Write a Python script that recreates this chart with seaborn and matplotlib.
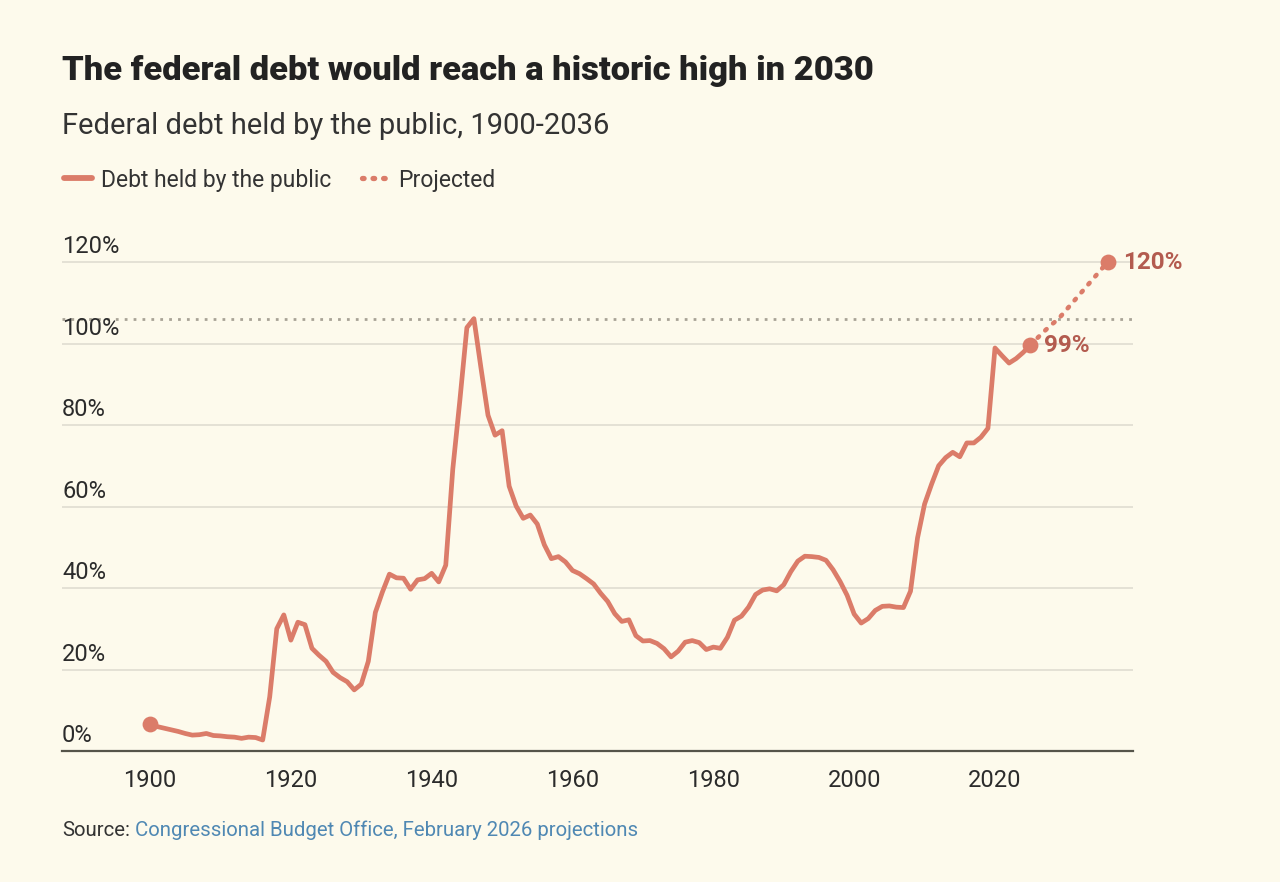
import numpy as np
import pandas as pd
import matplotlib
matplotlib.use("Agg")
import matplotlib.pyplot as plt
import matplotlib.transforms as mtransforms
from matplotlib.lines import Line2D
import seaborn as sns

# Data: federal debt held by the public, % of GDP
hist_years = list(range(1900, 2026))
hist_debt = [
    6.6, 6.0, 5.6, 5.2, 4.8, 4.3, 3.9, 4.0, 4.3, 3.8,      # 1900s
    3.7, 3.5, 3.4, 3.1, 3.4, 3.3, 2.7, 13.3, 30.0, 33.4,    # 1910s
    27.2, 31.6, 31.0, 25.2, 23.5, 22.0, 19.3, 18.0, 17.0, 15.0,  # 1920s
    16.4, 22.0, 34.0, 39.0, 43.4, 42.5, 42.4, 39.7, 42.0, 42.3,  # 1930s
    43.6, 41.5, 45.6, 69.2, 86.0, 103.9, 106.1, 94.0, 82.4, 77.5,  # 1940s
    78.6, 65.0, 60.1, 57.1, 57.9, 55.7, 50.6, 47.2, 47.7, 46.4,  # 1950s
    44.3, 43.5, 42.3, 41.0, 38.7, 36.7, 33.7, 31.8, 32.2, 28.3,  # 1960s
    27.0, 27.1, 26.4, 25.1, 23.1, 24.5, 26.7, 27.1, 26.6, 24.9,  # 1970s
    25.5, 25.2, 27.9, 32.1, 33.1, 35.3, 38.4, 39.5, 39.8, 39.3,  # 1980s
    40.8, 44.0, 46.6, 47.8, 47.7, 47.5, 46.8, 44.5, 41.6, 38.2,  # 1990s
    33.6, 31.4, 32.5, 34.5, 35.5, 35.6, 35.3, 35.2, 39.2, 52.3,  # 2000s
    60.6, 65.5, 70.0, 72.0, 73.3, 72.2, 75.6, 75.6, 77.0, 79.2,  # 2010s
    98.9, 97.0, 95.2, 96.3, 97.8, 99.6,                          # 2020-2025
]
proj_years = list(range(2025, 2037))
proj_debt = [99.6, 101.3, 103.0, 104.6, 106.0, 108.0, 110.0, 112.0, 114.0, 116.0, 118.0, 120.0]

record_high = 106.1
y_ticks = [0, 20, 40, 60, 80, 100, 120]
x_ticks = [1900, 1920, 1940, 1960, 1980, 2000, 2020]

hist = pd.DataFrame({"year": hist_years, "debt": hist_debt})
proj = pd.DataFrame({"year": proj_years, "debt": proj_debt})

BG = "#FDFAEC"
LINE = "#DB7C69"
LABEL = "#B35B4F"
GRID = "#E2DFD3"
TXT = "#2B2B2B"

sns.set_style("white")
plt.rcParams["font.family"] = ["Roboto", "DejaVu Sans"]

fig = plt.figure(figsize=(12.8, 8.82), dpi=100, facecolor=BG)
ax = fig.add_axes([62 / 1280, 131 / 882, (1133 - 62) / 1280, 124 * 4.075 / 882])
ax.set_facecolor(BG)

# gridlines
for v in y_ticks[1:]:
    ax.axhline(v, color=GRID, lw=1.3, zorder=0)
ax.axhline(record_high, color="#A8A396", lw=2, ls=(0, (1, 2.2)), zorder=1)

sns.lineplot(data=hist, x="year", y="debt", ax=ax, color=LINE, lw=3.4, zorder=3)
sns.lineplot(data=proj, x="year", y="debt", ax=ax, color=LINE, lw=3.3,
             ls=(0, (0.4, 1.9)), dash_capstyle="round", zorder=3)

# end-point dots
ax.scatter([hist_years[0], hist_years[-1], proj_years[-1]],
           [hist_debt[0], hist_debt[-1], proj_debt[-1]],
           s=130, color=LINE, zorder=4, linewidths=0)
ax.annotate(f"{int(hist_debt[-1])}%", (hist_years[-1], hist_debt[-1]),
            xytext=(10, 0), textcoords="offset points", va="center",
            fontsize=17.5, fontweight="bold", color=LABEL)
ax.annotate(f"{int(proj_debt[-1])}%", (proj_years[-1], proj_debt[-1]),
            xytext=(11, 0), textcoords="offset points", va="center",
            fontsize=17.5, fontweight="bold", color=LABEL)

ax.set_xlim(1887.5, 2039.6)
ax.set_ylim(0, 124)
ax.set_xticks(x_ticks)
ax.set_xticklabels([str(x) for x in x_ticks], fontsize=17, color=TXT)
ax.tick_params(axis="x", length=0, pad=13)
ax.set_yticks([])
ax.set_xlabel("")
ax.set_ylabel("")
for s in ["top", "right", "left"]:
    ax.spines[s].set_visible(False)
ax.spines["bottom"].set_color("#55544A")
ax.spines["bottom"].set_linewidth(1.6)

# y labels sitting above gridlines
trans = mtransforms.blended_transform_factory(ax.transAxes, ax.transData)
for v in y_ticks:
    ax.text(0, v + 2.1, f"{v}%", transform=trans, ha="left", va="baseline",
            fontsize=17, color=TXT)

# titles
fig.text(62 / 1280, 1 - 80 / 882, "The federal debt would reach a historic high in 2030",
         fontsize=24.8, fontweight="heavy", color="#222222", va="baseline")
fig.text(62 / 1280, 1 - 134 / 882, "Federal debt held by the public, 1900-2036",
         fontsize=21, color="#333333", va="baseline")

handles = [Line2D([], [], color=LINE, lw=4.2),
           Line2D([], [], color=LINE, lw=3.8, ls=(0, (0.3, 1.7)), dash_capstyle="round")]
fig.legend(handles, ["Debt held by the public", "Projected"], loc="center left",
           bbox_to_anchor=(48 / 1280, 1 - 180 / 882), ncol=2, frameon=False,
           fontsize=16.5, handlelength=1.2, handletextpad=0.4, columnspacing=1.35,
           labelcolor="#333333", borderpad=0.2)

src = fig.text(62 / 1280, 1 - 836 / 882, "Source:", fontsize=14.7, color="#333333",
               va="baseline")
fig.canvas.draw()
bb = src.get_window_extent()
fig.text((bb.x1 + 5) / 1280, 1 - 836 / 882,
         "Congressional Budget Office, February 2026 projections",
         fontsize=14.7, color="#4F88B3", va="baseline")

fig.savefig("out.png", dpi=100, facecolor=BG)
